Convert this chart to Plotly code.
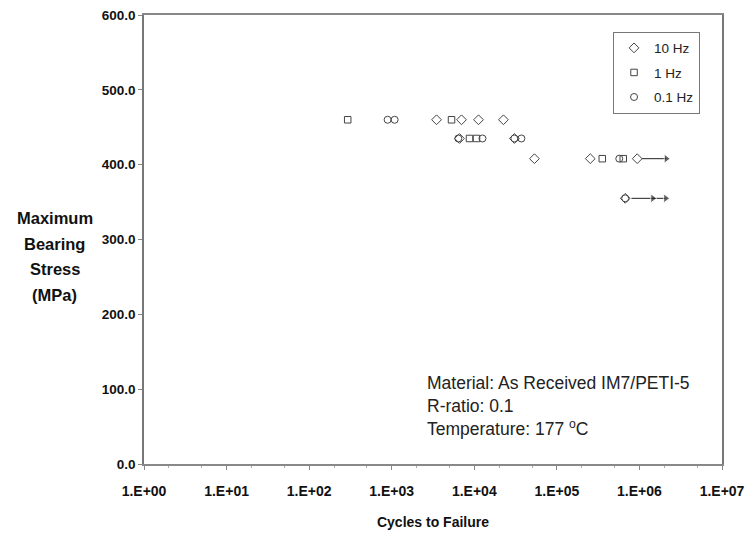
import plotly.graph_objects as go

# ---- data ----
hz10_cycles = [3490, 7000, 11250, 22550, 6620, 30600, 53500, 254000, 940000, 673000]
hz10_stress = [460, 460, 460, 460, 435, 435, 408, 408, 408, 355]

hz1_cycles = [293, 5300, 8750, 10640, 355000, 637000]
hz1_stress = [460, 460, 435, 435, 408, 408]

hz01_cycles = [892, 1084, 6400, 12560, 30600, 37200, 570000, 673000]
hz01_stress = [460, 460, 435, 435, 435, 435, 408, 355]

# run-out arrows (cycles, stress)
runout1_cycles = [1.07e6, 2.11e6]
runout1_stress = [408, 408]
runout2_cycles = [0.8e6, 1.45e6, 2.08e6]
runout2_stress = [355, 355, 355]

x_tickvals = [1, 1e1, 1e2, 1e3, 1e4, 1e5, 1e6, 1e7]
x_ticktext = ["1.E+00", "1.E+01", "1.E+02", "1.E+03", "1.E+04", "1.E+05", "1.E+06", "1.E+07"]
y_tickvals = [0, 100, 200, 300, 400, 500, 600]

FONT = "Liberation Sans, Arial, sans-serif"
MC = "#444"


def mk(symbol, size=6):
    return dict(symbol=symbol, size=size, color=MC, line=dict(color=MC, width=1))


fig = go.Figure()
fig.add_trace(go.Scatter(x=hz10_cycles, y=hz10_stress, mode="markers", name="10 Hz",
                         legendgroup="a", marker=mk("diamond-open", 7.5)))
fig.add_trace(go.Scatter(x=hz1_cycles, y=hz1_stress, mode="markers", name="1 Hz",
                         legendgroup="b", marker=mk("square-open", 6.5)))
fig.add_trace(go.Scatter(x=hz01_cycles, y=hz01_stress, mode="markers", name="0.1 Hz",
                         legendgroup="c", marker=mk("circle-open", 7)))

fig.add_trace(go.Scatter(x=runout1_cycles, y=runout1_stress, mode="lines+markers", showlegend=False,
                         line=dict(color="#222", width=1),
                         marker=dict(symbol=["circle", "triangle-right"], size=[0, 8], color="#222")))
fig.add_trace(go.Scatter(x=runout2_cycles, y=runout2_stress, mode="lines+markers", showlegend=False,
                         line=dict(color="#222", width=1),
                         marker=dict(symbol=["circle", "triangle-right", "triangle-right"],
                                     size=[0, 8, 8], color="#222")))

fig.update_xaxes(type="log", range=[0, 7], tickvals=x_tickvals, ticktext=x_ticktext, automargin=False,
                 tickfont=dict(family=FONT, size=14, color="#111", weight="bold"),
                 showgrid=False, zeroline=False, showline=True, linecolor="#888", linewidth=1.5,
                 mirror=True, ticks="outside", ticklen=4, tickcolor="#888", ticklabelstandoff=9,
                 minor=dict(ticks="outside", ticklen=2, tickcolor="#aaa", showgrid=False),
                 title=dict(text="Cycles to Failure", font=dict(family=FONT, size=14, color="#111", weight="bold"),
                            standoff=20))
fig.update_yaxes(range=[0, 600], tickvals=y_tickvals, tickformat=".1f", automargin=False,
                 tickfont=dict(family=FONT, size=13.5, color="#111", weight="bold"),
                 showgrid=False, zeroline=False, showline=True, linecolor="#777", linewidth=1.5,
                 mirror=True, ticks="outside", ticklen=4, tickcolor="#888")

ytitle = ["Maximum", "Bearing", "Stress", "(MPa)"]
for i, t in enumerate(ytitle):
    fig.add_annotation(text=t, xref="paper", yref="paper", x=-0.154, y=0.548 - i * 0.057,
                       xanchor="center", yanchor="middle", showarrow=False,
                       font=dict(family=FONT, size=16.5, color="#111", weight="bold"))

notes = ["Material: As Received IM7/PETI-5", "R-ratio: 0.1", "Temperature: 177 <sup>o</sup>C"]
for i, t in enumerate(notes):
    fig.add_annotation(text=t, xref="paper", yref="paper", x=0.487, y=0.18 - i * 0.05,
                       xanchor="left", yanchor="middle", showarrow=False,
                       font=dict(family=FONT, size=17.5, color="#222"))

fig.update_layout(
    width=749, height=551,
    margin=dict(l=144, r=27, t=15, b=87),
    paper_bgcolor="white", plot_bgcolor="white",
    showlegend=True,
    legend=dict(x=0.962, y=0.963, xanchor="right", yanchor="top",
                bgcolor="white", bordercolor="#777", borderwidth=1,
                font=dict(family=FONT, size=13.5, color="#222"),
                itemwidth=30, tracegroupgap=4),
)

fig.write_html("out.html")
